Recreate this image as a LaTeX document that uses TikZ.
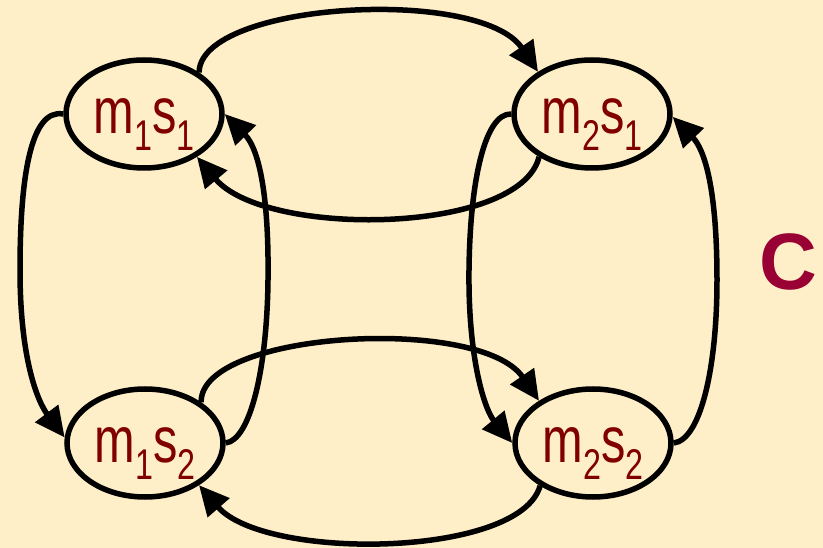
\documentclass[tikz,border=0pt]{standalone}
\usepackage{fontspec}
\setmainfont{Liberation Sans}
\usetikzlibrary{shapes.geometric,arrows.meta}
\definecolor{bg}{HTML}{FFEFC8}
\definecolor{txt}{HTML}{800000}
\definecolor{cc}{HTML}{990033}
\newcommand{\lowsub}[1]{\raisebox{-17pt}{\fontsize{43}{43}\selectfont #1}}
\newcommand{\statetext}[1]{\makebox[70pt]{\scalebox{0.75}[1]{#1}}}
\begin{document}
\begin{tikzpicture}[x=1pt,y=-1pt,
 state/.style={ellipse, draw=black, line width=5.5pt, minimum width=156pt, minimum height=108pt,
   inner sep=0pt, text=txt, font=\fontsize{65}{70}\selectfont, text height=56pt, text depth=17pt},
 link/.style={line width=5.5pt, -{Triangle[length=30pt,width=28pt]}},
 biglabel/.style={text=cc, font=\fontsize{80}{80}\selectfont\bfseries, inner sep=0pt}]
\fill[bg] (0,0) rectangle (823,548);
\useasboundingbox (0,0) rectangle (823,548);

\node[state] (m11) at (144,114) {\statetext{m\lowsub{1}s\lowsub{1}}};
\node[state] (m21) at (592,114) {\statetext{m\lowsub{2}s\lowsub{1}}};
\node[state] (m12) at (145,443) {\statetext{m\lowsub{1}s\lowsub{2}}};
\node[state] (m22) at (593,443) {\statetext{m\lowsub{2}s\lowsub{2}}};
\node[biglabel] (c) at (788,262) {C};

% top row arcs
\draw[link] (m11.37) .. controls (200,2) and (480,-14) .. (m21.142);
\draw[link] (m21.219) .. controls (520,235) and (265,238) .. (m11.-39);
% bottom row arcs
\draw[link] (m12.36) .. controls (200,331) and (480,315) .. (m22.142);
\draw[link] (m22.219) .. controls (520,558) and (265,561) .. (m12.-38);
% left column
\draw[link] (m11.180) .. controls (30,108) and (20,180) .. (20,270)
  .. controls (20,360) and (38,402) .. (m12.176);
\draw[link] (m12.0) .. controls (250,440) and (267,370) .. (268,280)
  .. controls (269,200) and (260,150) .. (m11.0);
% right column
\draw[link] (m21.180) .. controls (485,113) and (470,180) .. (469,270)
  .. controls (468,360) and (485,410) .. (m22.180);
\draw[link] (m22.0) .. controls (700,440) and (717,370) .. (717,280)
  .. controls (717,190) and (705,150) .. (m21.-2);
\end{tikzpicture}
\end{document}
